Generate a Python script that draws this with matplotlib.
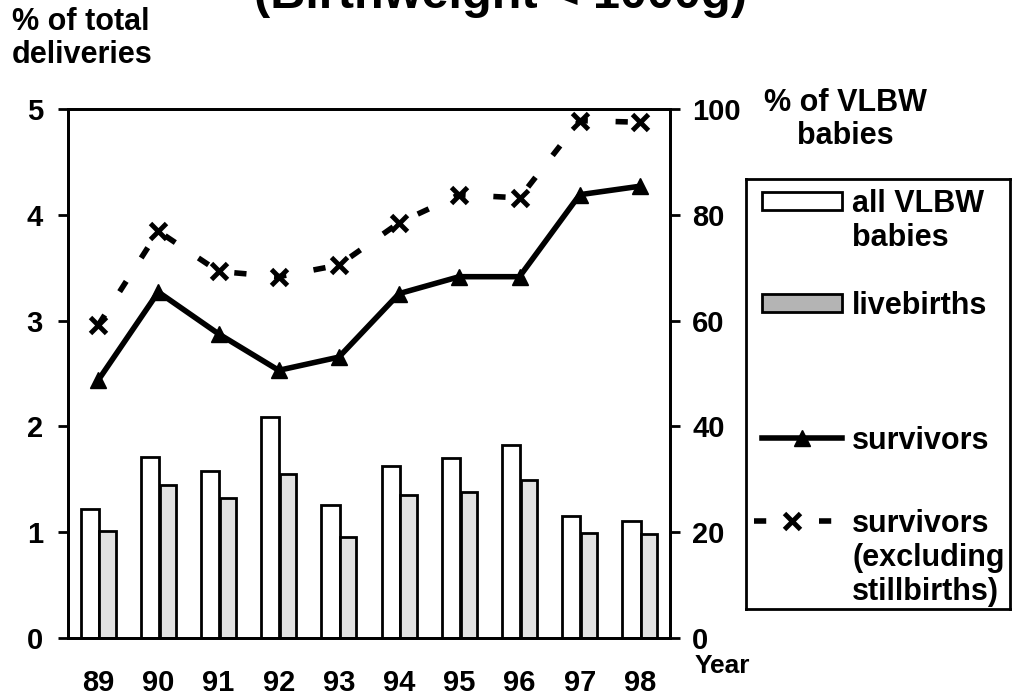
import numpy as np
import matplotlib
matplotlib.use("Agg")
import matplotlib.pyplot as plt
from matplotlib.patches import Rectangle

plt.rcParams['font.family'] = ['Liberation Sans', 'DejaVu Sans']
plt.rcParams['font.weight'] = 'bold'

# données
years = ["89", "90", "91", "92", "93", "94", "95", "96", "97", "98"]
all_vlbw = [1.22, 1.71, 1.58, 2.09, 1.26, 1.63, 1.70, 1.82, 1.15, 1.11]
livebirths = [1.01, 1.45, 1.32, 1.55, 0.95, 1.35, 1.38, 1.49, 0.99, 0.98]
survivors = [48.7, 65.4, 57.5, 50.6, 53.1, 65.1, 68.3, 68.3, 83.8, 85.4]
survivors_excl = [59.1, 76.9, 69.3, 68.3, 70.5, 78.5, 83.8, 83.2, 97.8, 97.5]

W, H = 1015, 696
fig = plt.figure(figsize=(W / 100, H / 100), dpi=100)
ax = fig.add_axes([68 / W, 1 - 638 / H, 602 / W, 529 / H])
ax2 = ax.twinx()

dash = (0, (2.2, 5))
x = np.arange(len(years))
ax.bar(x - 0.14, all_vlbw, width=0.30, color='white', edgecolor='black', linewidth=2)
ax.bar(x + 0.155, livebirths, width=0.27, color='#e2e2e2', edgecolor='black', linewidth=2)

ax2.plot(x, survivors, color='black', lw=4, marker='^', ms=11)
ax2.plot(x, survivors_excl, color='black', lw=4, ls=dash, marker='x', ms=12, mew=3.5)

ax.set_xlim(-0.5, len(years) - 0.5)
ax.set_ylim(0, 5)
ax2.set_ylim(0, 100)
ax.set_xticks(x)
ax.set_xticklabels(years)
ax.set_yticks([0, 1, 2, 3, 4, 5])
ax2.set_yticks([0, 20, 40, 60, 80, 100])
ax.tick_params(axis='x', length=0, pad=22, labelsize=21)
ax.tick_params(axis='y', length=7, width=2, pad=11, labelsize=21)
ax2.tick_params(axis='y', length=7, width=2, pad=9, labelsize=21)
for a in (ax, ax2):
    for s in a.spines.values():
        s.set_linewidth(2)

fig.text(12 / W, 1 - 7 / H, "% of total\ndeliveries", fontsize=22, va='top', ha='left', linespacing=1.15)
fig.text(845 / W, 1 - 88 / H, "% of VLBW\nbabies", fontsize=22, va='top', ha='center', linespacing=1.15)
fig.text(695 / W, 1 - 654 / H, "Year", fontsize=19, ha='left', va='top')
# titre coupé en haut comme sur l'original
fig.text(500 / W, 1 - 8 / H, "(Birthweight < 1000g)", fontsize=35, ha='center', va='baseline')

# légende dessinée à la main (poignée alignée sur la première ligne)
lg = fig.add_axes([746 / W, 1 - 609 / H, 264 / W, 430 / H])
lg.set_xlim(0, 264)
lg.set_ylim(430, 0)
lg.set_xticks([])
lg.set_yticks([])
for s in lg.spines.values():
    s.set_linewidth(2)

lg.add_patch(Rectangle((16, 13), 80, 18, facecolor='white', edgecolor='black', lw=2))
lg.add_patch(Rectangle((16, 115), 80, 18, facecolor='#b4b4b4', edgecolor='black', lw=2))
lg.plot([16, 96], [259, 259], color='black', lw=4)
lg.plot([56], [259], color='black', marker='^', ms=11)
lg.plot([8, 96], [342, 342], color='black', lw=4, ls=(0, (2.2, 9.5)))
lg.plot([46], [342], color='black', marker='x', ms=12, mew=3.5)

legend_rows = [(["all VLBW", "babies"], 22), (["livebirths"], 124), (["survivors"], 259),
               (["survivors", "(excluding", "stillbirths)"], 342)]
for lines, yc in legend_rows:
    for k, line in enumerate(lines):
        lg.text(106, yc + 11 + 34 * k, line, fontsize=22, ha='left', va='baseline')

fig.savefig("out.png", dpi=100)
